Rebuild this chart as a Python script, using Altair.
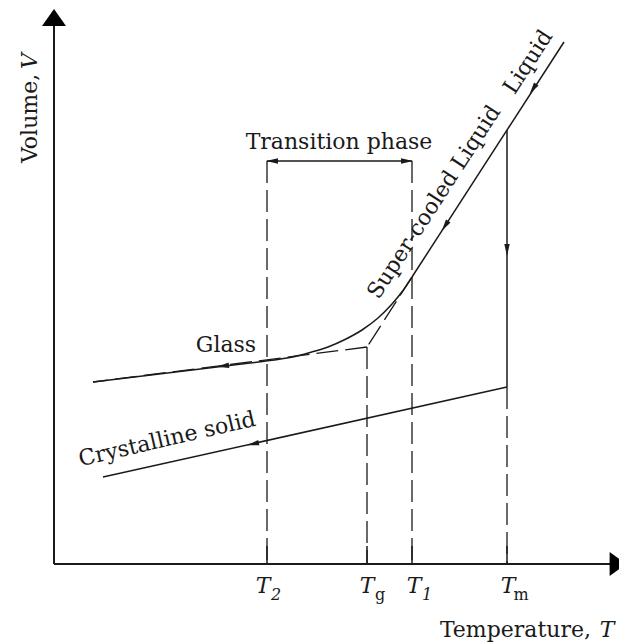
import altair as alt
import pandas as pd

W, H = 619, 642
FONT = "DejaVu Serif"
INK = "#1a1a1a"

# ---- data (T = temperature units, V = volume units) ----
# solid straight segments
sol_name = ["liquid", "melt", "crystal", "bracket", "tick2", "tickg", "tick1", "tickm"]
sol_T0 = [564, 507, 103, 267, 267, 367, 412, 507]
sol_V0 = [600, 512, 165, 481, 78, 78, 78, 78]
sol_T1 = [412, 507, 507, 412, 267, 367, 412, 507]
sol_V1 = [365, 255, 255, 481, 96, 96, 96, 96]

# axis lines
ax_T0 = [54, 54]
ax_V0 = [78, 78]
ax_T1 = [54, 611]
ax_V1 = [616, 78]

# dashed segments
dash_name = ["T2", "T1", "Tg", "Tm", "extension", "glass"]
dash_T0 = [267, 412, 367, 507, 412, 367]
dash_V0 = [481, 481, 295, 255, 365, 295]
dash_T1 = [267, 412, 367, 507, 367, 93]
dash_V1 = [78, 78, 78, 78, 295, 260]

# glass-transition curve
curve_T = [93, 250, 270, 290, 310, 328, 345, 362, 378, 392, 403, 412]
curve_V = [260, 279, 281.5, 284.5, 289.5, 295, 302.5, 312, 324, 338, 351.5, 365]

# arrowheads on lines
arr_T = [533, 445, 507, 223, 253, 272, 407]
arr_V = [553, 416, 392, 276, 198, 481, 481]
arr_ang = [213, 213, 180, 263, 257, 270, 90]

# axis arrowheads
axarr_T = [54, 618]
axarr_V = [624.5, 78]
axarr_ang = [0, 90]

# rotated curve labels
lab_text = ["Super-cooled Liquid", "Liquid", "Crystalline solid"]
lab_T = [434, 528, 167]
lab_V = [440, 580, 203]
lab_ang = [303, 303, 347]

# tick labels
tick_T = [263, 367, 414, 508]
tick_V = [49, 49, 49, 49]
sub_it_text = ["2", "1"]
sub_it_T = [276, 427]
sub_up_text = ["g", "m"]
sub_up_T = [380, 521]
sub_V = 42

xs = alt.Scale(domain=[0, W], nice=False, zero=False)
ys = alt.Scale(domain=[0, H], nice=False, zero=False)


def segs(T0, V0, T1, V1, **mk):
    df = pd.DataFrame({"T0": T0, "V0": V0, "T1": T1, "V1": V1})
    return alt.Chart(df).mark_rule(color=INK, **mk).encode(
        x=alt.X("T0:Q", scale=xs, axis=None),
        y=alt.Y("V0:Q", scale=ys, axis=None),
        x2="T1:Q",
        y2="V1:Q",
    )


def text_layer(texts, T, V, angle=0, **mk):
    df = pd.DataFrame({"t": texts, "T": T, "V": V})
    return alt.Chart(df).mark_text(font=FONT, color=INK, angle=angle, **mk).encode(
        x=alt.X("T:Q", scale=xs, axis=None),
        y=alt.Y("V:Q", scale=ys, axis=None),
        text="t:N",
    )


solid = segs(sol_T0, sol_V0, sol_T1, sol_V1, strokeWidth=1.5)
axes = segs(ax_T0, ax_V0, ax_T1, ax_V1, strokeWidth=2)
dashed = segs(dash_T0, dash_V0, dash_T1, dash_V1, strokeWidth=1.3, strokeDash=[22, 7])

curve = alt.Chart(pd.DataFrame({"T": curve_T, "V": curve_V})).mark_line(
    color=INK, strokeWidth=1.5, interpolate="monotone"
).encode(
    x=alt.X("T:Q", scale=xs, axis=None),
    y=alt.Y("V:Q", scale=ys, axis=None),
    order="T:Q",
)

arrows = alt.Chart(pd.DataFrame({"T": arr_T, "V": arr_V, "a": arr_ang})).mark_point(
    shape="M0,-1L0.45,1L-0.45,1Z", filled=True, size=144, color=INK, opacity=1
).encode(
    x=alt.X("T:Q", scale=xs, axis=None),
    y=alt.Y("V:Q", scale=ys, axis=None),
    angle=alt.Angle("a:Q", scale=None),
)

ax_arrows = alt.Chart(pd.DataFrame({"T": axarr_T, "V": axarr_V, "a": axarr_ang})).mark_point(
    shape="M0,-0.7L1,0.7L-1,0.7Z", filled=True, size=576, color="black", opacity=1
).encode(
    x=alt.X("T:Q", scale=xs, axis=None),
    y=alt.Y("V:Q", scale=ys, axis=None),
    angle=alt.Angle("a:Q", scale=None),
)

rot_labels = alt.Chart(pd.DataFrame({"t": lab_text, "T": lab_T, "V": lab_V, "a": lab_ang})).mark_text(
    font=FONT, color=INK, fontSize=22, align="center", baseline="middle"
).encode(
    x=alt.X("T:Q", scale=xs, axis=None),
    y=alt.Y("V:Q", scale=ys, axis=None),
    text="t:N",
    angle=alt.Angle("a:Q", scale=None),
)

trans = text_layer(["Transition phase"], [339], [493], fontSize=22, align="center", baseline="alphabetic")
glass = text_layer(["Glass"], [226], [290], fontSize=22, align="center", baseline="alphabetic")

tick_T_lab = text_layer(["T"] * 4, tick_T, tick_V, fontSize=22, fontStyle="italic",
                        align="center", baseline="alphabetic")
sub_it = text_layer(sub_it_text, sub_it_T, [sub_V] * 2, fontSize=16, fontStyle="italic",
                    align="center", baseline="alphabetic")
sub_up = text_layer(sub_up_text, sub_up_T, [sub_V] * 2, fontSize=16,
                    align="center", baseline="alphabetic")

xtitle = text_layer(["Temperature,"], [591], [5], fontSize=22, align="right", baseline="alphabetic")
xtitle_T = text_layer(["T"], [607], [5], fontSize=22, fontStyle="italic", align="center", baseline="alphabetic")

ytitle = text_layer(["Volume,"], [37], [479], angle=270, fontSize=22, align="left", baseline="alphabetic")
ytitle_V = text_layer(["V"], [37], [581], angle=270, fontSize=22, fontStyle="italic",
                      align="center", baseline="alphabetic")

chart = alt.layer(
    dashed, solid, curve, axes, arrows, ax_arrows, rot_labels, trans, glass,
    tick_T_lab, sub_it, sub_up, xtitle, xtitle_T, ytitle, ytitle_V,
).properties(
    width=W, height=H, padding=0, autosize="none", background="white"
).configure_view(stroke=None)

chart.save("out.html", embed_options={"renderer": "svg", "actions": False})
